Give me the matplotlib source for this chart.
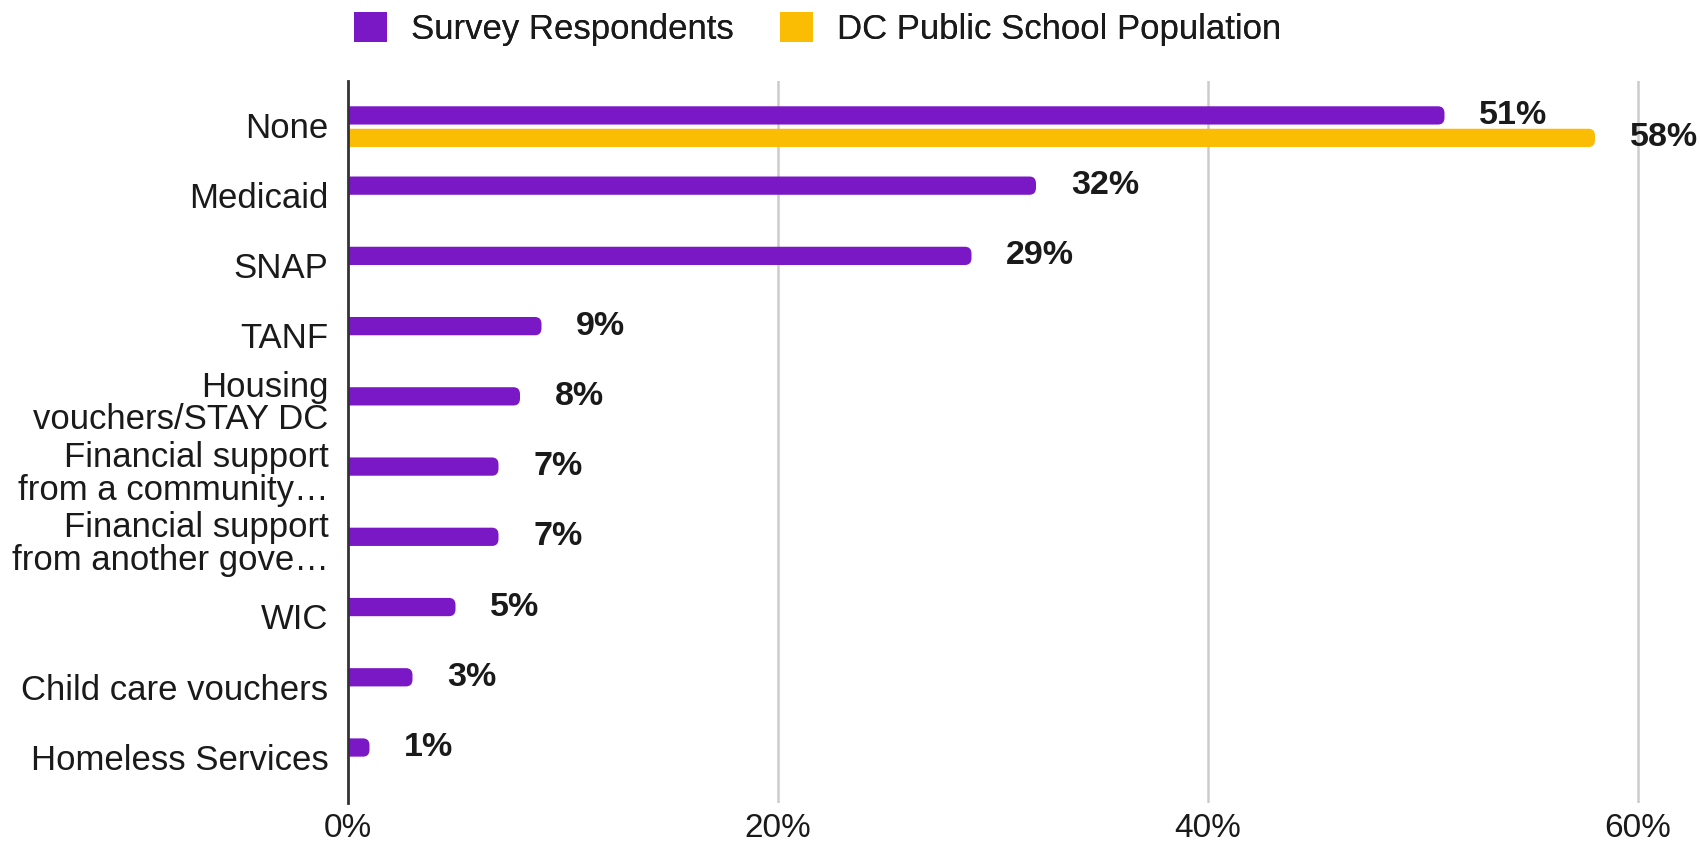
import numpy as np
import matplotlib
matplotlib.use("Agg")
import matplotlib.pyplot as plt
from matplotlib.patches import FancyBboxPatch, Patch
from matplotlib.transforms import ScaledTranslation

plt.rcParams['font.family'] = ['Liberation Sans', 'DejaVu Sans']

# data
categories = ["None", "Medicaid", "SNAP", "TANF", "Housing\nvouchers/STAY DC",
              "Financial support\nfrom a community\u2026",
              "Financial support\nfrom another gove\u2026",
              "WIC", "Child care vouchers", "Homeless Services"]
survey = [51, 32, 29, 9, 8, 7, 7, 5, 3, 1]
dcps = [58, None, None, None, None, None, None, None, None, None]
series_names = ["Survey Respondents", "DC Public School Population"]
xticks = [0, 20, 40, 60]

purple = '#7a18c6'
yellow = '#fbbc04'
text_col = '#1a1a1a'

fig = plt.figure(figsize=(17, 8.5), dpi=100)
ax = fig.add_axes([348/1700, 47/850, 1 - 348/1700, 722/850])

y = np.arange(len(categories))
off = 0.16
h = 0.26


def rounded_bars(ypos, vals, color):
    # barh first, then swap each rectangle for a round-ended one
    bars = ax.barh(ypos, [v if v is not None else 0 for v in vals], height=h,
                   color=color)
    for b, v in zip(bars, vals):
        b.set_visible(False)
        if v is None:
            continue
        x0, y0 = b.get_x(), b.get_y()
        w, hh = b.get_width(), b.get_height()
        p = FancyBboxPatch((x0 - 0.5, y0), w + 0.5, hh,
                           boxstyle="round,pad=0,rounding_size=0.3",
                           mutation_aspect=0.33, fc=color, ec='none',
                           clip_on=True, zorder=3)
        ax.add_patch(p)
        ax.annotate(f"{v}%", xy=(v, y0 + hh / 2), xytext=(25, 0),
                    textcoords='offset points', va='center', ha='left',
                    fontsize=24.5, fontweight='bold', color=text_col,
                    annotation_clip=False)


rounded_bars(y - off, survey, purple)
rounded_bars(y + off, dcps, yellow)

ax.set_xlim(0, (1700 - 348) / 21.5)
ax.set_ylim(9.63, -0.65)

ax.set_xticks(xticks)
ax.set_xticklabels([f"{t}%" for t in xticks], fontsize=24, color=text_col)
ax.set_yticks(y)
ax.set_yticklabels(categories, fontsize=25, color=text_col, linespacing=0.98)
ax.tick_params(axis='both', length=0)
ax.tick_params(axis='x', pad=7.5)
ax.tick_params(axis='y', pad=14)

# two-line labels sit a bit higher in the reference
for lab in ax.get_yticklabels():
    dy = 7 / 72 * 0.75 if '\n' in lab.get_text() else 2 / 100
    lab.set_transform(lab.get_transform() +
                      ScaledTranslation(0, dy, fig.dpi_scale_trans))

for s in ['top', 'right', 'bottom']:
    ax.spines[s].set_visible(False)
ax.spines['left'].set_color('#333333')
ax.spines['left'].set_linewidth(2)
ax.spines['left'].set_zorder(5)

for t in xticks[1:]:
    ax.axvline(t, color='#cccccc', lw=1.8, zorder=1)

# legend, one per entry so each sits where it does in the reference
for name, col, xpos in zip(series_names, [purple, yellow], [354, 780]):
    leg = fig.legend(handles=[Patch(facecolor=col, edgecolor='none')],
                     labels=[name], loc='center left',
                     bbox_to_anchor=(xpos / 1700, 1 - 29 / 850),
                     frameon=False, fontsize=25, handlelength=0.95,
                     handleheight=0.95, handletextpad=0.7, borderpad=0,
                     borderaxespad=0)
    for txt in leg.get_texts():
        txt.set_color(text_col)
    fig.add_artist(leg)

fig.savefig("out.png", dpi=100)
